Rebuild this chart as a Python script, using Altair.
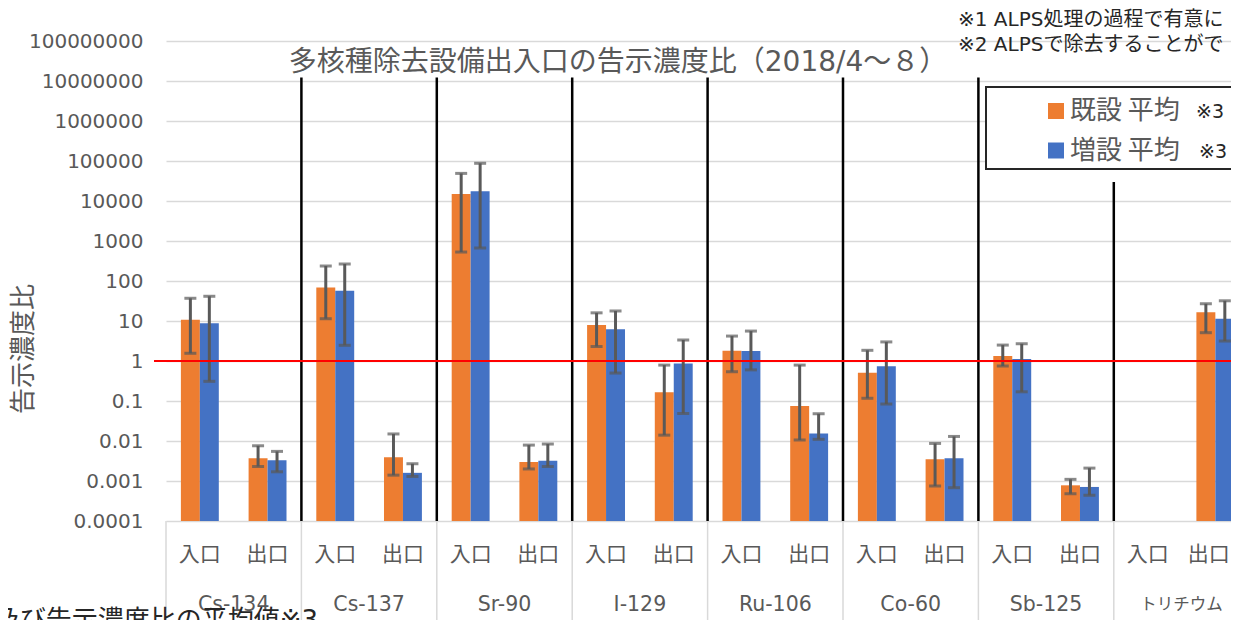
import altair as alt
import pandas as pd

# ---------------- data ----------------
groups = ["Cs-134", "Cs-137", "Sr-90", "I-129", "Ru-106", "Co-60", "Sb-125", "トリチウム"]
sides = ["入口", "出口"]
series = ["既設 平均", "増設 平均"]
legend_note = "※3"

# 16 values each: group by group, 入口 then 出口
kisetsu_mean = [10.8, 0.0037, 69, 0.0039, 15000, 0.0030, 7.9, 0.165, 1.8, 0.075, 0.51, 0.0035, 1.33, 0.00078, None, 16.5]
kisetsu_hi = [37, 0.0076, 237, 0.015, 49000, 0.0079, 16, 0.79, 4.2, 0.79, 1.85, 0.0087, 2.5, 0.0011, None, 27]
kisetsu_lo = [1.56, 0.0023, 11.4, 0.0014, 530, 0.0020, 2.3, 0.014, 0.54, 0.0106, 0.117, 0.00075, 0.75, 0.00048, None, 5.1]
zousetsu_mean = [8.8, 0.0033, 57, 0.0016, 17500, 0.0032, 6.2, 0.87, 1.78, 0.0155, 0.74, 0.0037, 1.12, 0.00071, None, 11.4]
zousetsu_hi = [41.5, 0.0055, 266, 0.0027, 87600, 0.0084, 17.8, 3.35, 5.6, 0.048, 3.0, 0.013, 2.7, 0.0021, None, 32]
zousetsu_lo = [0.31, 0.0017, 2.47, 0.0013, 668, 0.0023, 0.5, 0.049, 0.6, 0.011, 0.084, 0.00068, 0.17, 0.00044, None, 3.16]

reference_level = 1
y_ticks = [10.0 ** k for k in range(-4, 9)]

title_text = "多核種除去設備出入口の告示濃度比（2018/4～８）"
y_title = "告示濃度比"
notes = ["※1 ALPS処理の過程で有意に", "※2 ALPSで除去することがで"]
bottom_note = "及び告示濃度比の平均値※3"

# ---------------- styles / layout ----------------
ORANGE, BLUE = "#ED7D31", "#4472C4"
GREY_TXT = "#595959"
GRID = "#d9d9d9"
FONT_MIX = "DejaVu Sans, Noto Sans CJK JP"
FONT_JP = "Noto Sans CJK JP"

PAD_L = 158
W, H = 1223 - PAD_L, 480
SLOT = 67.7             # pixels per category slot
XMAX = W / SLOT
BW = 0.28               # bar width in slot units

xs = alt.Scale(domain=[0, XMAX], nice=False, zero=False)
ys = alt.Scale(type="log", domain=[1e-4, 1e8], nice=False)
cs = alt.Scale(domain=series, range=[ORANGE, BLUE])

# ---------------- tables ----------------
rows = []
ser_data = [(kisetsu_mean, kisetsu_hi, kisetsu_lo), (zousetsu_mean, zousetsu_hi, zousetsu_lo)]
for i in range(len(groups) * len(sides)):
    c = i + 0.5
    for k, (m, hi, lo) in enumerate(ser_data):
        if m[i] is None:
            continue
        rows.append({
            "group": groups[i // 2], "side": sides[i % 2], "series": series[k],
            "x0": c - BW * (1 - k), "x1": c + BW * k, "xc": c - BW / 2 + BW * k,
            "mean": m[i], "hi": hi[i], "lo": lo[i],
        })
df = pd.DataFrame(rows)

n_slots = len(groups) * len(sides)
# the last label sits at the very edge of the window: keep it just inside
df_slots = pd.DataFrame({"pos": [min(i + 0.5, XMAX - 0.33) for i in range(n_slots)],
                         "label": [sides[i % 2] for i in range(n_slots)]})
df_groups = pd.DataFrame({"pos": [2 * g + 1 for g in range(len(groups))], "label": groups})
df_bounds = pd.DataFrame({"b": [2 * g for g in range(len(groups))]})
df_sep_main = pd.DataFrame({"b": [2 * g for g in range(1, len(groups) - 1)]})
df_sep_last = pd.DataFrame({"b": [2 * (len(groups) - 1)]})
one = pd.DataFrame({"a": [0]})

# ---------------- layers ----------------
yaxis = alt.Axis(values=y_ticks, format="~f", grid=True, gridColor=GRID, gridWidth=1.3,
                 domain=False, ticks=False, tickSize=0, labelPadding=23, title=None,
                 labelFont="DejaVu Sans", labelFontSize=20, labelColor=GREY_TXT)

bars = alt.Chart(df).mark_bar().encode(
    x=alt.X("x0:Q", scale=xs, axis=None),
    x2="x1:Q",
    y=alt.Y("mean:Q", scale=ys, axis=yaxis),
    y2=alt.datum(1e-4),
    color=alt.Color("series:N", scale=cs, legend=None),
)

err = alt.Chart(df).mark_rule(color=GREY_TXT, strokeWidth=3).encode(
    x=alt.X("xc:Q", scale=xs), y=alt.Y("lo:Q", scale=ys), y2="hi:Q")
cap_hi = alt.Chart(df).mark_tick(color=GREY_TXT, orient="horizontal", size=12, thickness=3).encode(
    x=alt.X("xc:Q", scale=xs), y=alt.Y("hi:Q", scale=ys))
cap_lo = alt.Chart(df).mark_tick(color=GREY_TXT, orient="horizontal", size=12, thickness=3).encode(
    x=alt.X("xc:Q", scale=xs), y=alt.Y("lo:Q", scale=ys))

red = alt.Chart(pd.DataFrame({"v": [reference_level]})).mark_rule(color="#ff0000", strokeWidth=2).encode(
    y=alt.Y("v:Q", scale=ys), x=alt.value(-12), x2=alt.value(W))

sep_main = alt.Chart(df_sep_main).mark_rule(color="black", strokeWidth=2.5).encode(
    x=alt.X("b:Q", scale=xs), y=alt.value(36.5), y2=alt.value(H))
sep_last = alt.Chart(df_sep_last).mark_rule(color="black", strokeWidth=2.5).encode(
    x=alt.X("b:Q", scale=xs), y=alt.value(141), y2=alt.value(H))

box_lines = alt.Chart(df_bounds).mark_rule(color=GRID, strokeWidth=1.5).encode(
    x=alt.X("b:Q", scale=xs), y=alt.value(H), y2=alt.value(H + 100))

side_lbl = alt.Chart(df_slots).mark_text(font=FONT_JP, fontSize=21, color=GREY_TXT,
                                         baseline="middle", align="center").encode(
    x=alt.X("pos:Q", scale=xs), y=alt.value(514), text="label:N")
grp_lbl = alt.Chart(df_groups).mark_text(font=FONT_MIX, color=GREY_TXT,
                                         baseline="middle", align="center").encode(
    x=alt.X("pos:Q", scale=xs), y=alt.value(564), text="label:N",
    size=alt.condition(alt.datum.label == groups[-1], alt.value(16.5), alt.value(20.5)))

title = alt.Chart(pd.DataFrame({"t": [title_text]})).mark_text(
    font=FONT_MIX, fontSize=28, color=GREY_TXT, align="center", baseline="middle").encode(
    x=alt.value(452), y=alt.value(22), text="t:N")

ytitle = alt.Chart(pd.DataFrame({"t": [y_title]})).mark_text(
    font=FONT_JP, fontSize=26, color=GREY_TXT, align="center", baseline="middle", angle=270).encode(
    x=alt.value(-142), y=alt.value(308), text="t:N")

note_layers = [
    alt.Chart(pd.DataFrame({"t": [n]})).mark_text(
        font=FONT_MIX, fontSize=20, color="#262626", align="left", baseline="middle").encode(
        x=alt.value(792), y=alt.value(-21 + 25 * i), text="t:N")
    for i, n in enumerate(notes)
]

bottom = alt.Chart(pd.DataFrame({"t": [bottom_note]})).mark_text(
    font=FONT_MIX, fontSize=26, color="#262626", align="right", baseline="middle").encode(
    x=alt.value(152), y=alt.value(580), text="t:N")

legend_box = alt.Chart(one).mark_rect(fill="white", stroke="#262626", strokeWidth=2).encode(
    x=alt.value(820), x2=alt.value(1300), y=alt.value(46), y2=alt.value(128))

legend_layers = []
for i, s in enumerate(series):
    d = pd.DataFrame({"series": [s], "note": [legend_note]})
    yy = 70 + 39.5 * i
    legend_layers.append(alt.Chart(d).mark_square(size=256, opacity=1).encode(
        x=alt.value(890), y=alt.value(yy), color=alt.Color("series:N", scale=cs, legend=None)))
    legend_layers.append(alt.Chart(d).mark_text(
        font=FONT_JP, fontSize=26, color=GREY_TXT, align="left", baseline="middle").encode(
        x=alt.value(904), y=alt.value(yy), text="series:N"))
    legend_layers.append(alt.Chart(d).mark_text(
        font=FONT_MIX, fontSize=19, color="#262626", align="left", baseline="middle").encode(
        x=alt.value(1030 + 3 * i), y=alt.value(yy + 1), text="note:N"))

chart = alt.layer(
    bars, err, cap_hi, cap_lo, box_lines, sep_main, sep_last, red,
    legend_box, *legend_layers, side_lbl, grp_lbl, title, ytitle, *note_layers, bottom,
).properties(
    width=W, height=H,
    autosize=alt.AutoSizeParams(type="none"),
    padding={"left": PAD_L, "top": 33, "right": 0, "bottom": 99},
    background="white",
).configure_view(stroke=None)

chart.save("out.html", embed_options={"renderer": "svg", "actions": False})
